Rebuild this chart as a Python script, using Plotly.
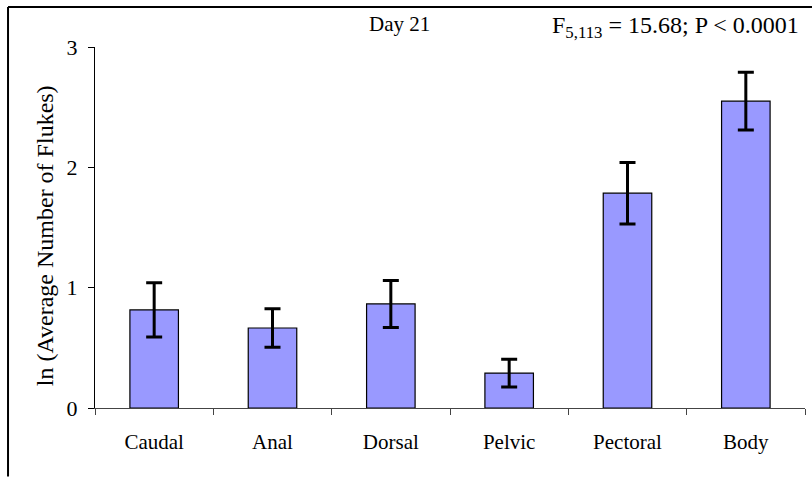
import plotly.graph_objects as go

categories = ["Caudal", "Anal", "Dorsal", "Pelvic", "Pectoral", "Body"]
values = [0.815, 0.665, 0.865, 0.29, 1.785, 2.55]
errors = [0.225, 0.16, 0.195, 0.115, 0.255, 0.24]
y_ticks = [0, 1, 2, 3]

FONT = "Liberation Serif, Times New Roman, serif"

fig = go.Figure()
fig.add_trace(go.Bar(
    x=categories, y=values,
    marker=dict(color="#9999FF", line=dict(color="black", width=1.2)),
    width=0.41,
    error_y=dict(type="data", array=errors, visible=True, color="black", thickness=3, width=8),
))

fig.update_layout(
    width=812, height=478,
    margin=dict(l=95, r=7, t=47, b=70),
    plot_bgcolor="white", paper_bgcolor="white",
    showlegend=False,
    font=dict(family=FONT, size=21, color="black"),
    xaxis=dict(showline=True, linecolor="#444", linewidth=1, ticks="outside", tickson="boundaries",
               ticklen=6, tickcolor="#444", showgrid=False, tickfont=dict(size=21, family=FONT),
               ticklabelstandoff=15),
    yaxis=dict(range=[0, 3], tickvals=y_ticks, showline=True, linecolor="black", linewidth=1,
               ticks="outside", ticklen=6, tickcolor="black", showgrid=False, zeroline=False,
               tickfont=dict(size=22, family=FONT), ticklabelstandoff=6),
    annotations=[
        dict(text="ln (Average Number of Flukes)", xref="paper", yref="paper", x=-0.0704, y=0.476,
             xanchor="center", yanchor="middle", textangle=-90, showarrow=False,
             font=dict(size=24, family=FONT)),
        dict(text="Day 21", xref="paper", yref="paper", x=0.429, y=1.063, xanchor="center", yanchor="middle",
             showarrow=False, font=dict(size=21, family=FONT)),
        dict(text="F<sub>5,113</sub> = 15.68; P < 0.0001", xref="paper", yref="paper", x=0.994, y=1.055,
             xanchor="right", yanchor="middle", showarrow=False, font=dict(size=24, family=FONT)),
    ],
    shapes=[
        dict(type="line", xref="paper", yref="paper", x0=-0.1225, x1=1.02, y0=1.111, y1=1.111,
             line=dict(color="black", width=2)),
        dict(type="line", xref="paper", yref="paper", x0=-0.1225, x1=-0.1225, y0=1.111, y1=-0.19,
             line=dict(color="black", width=2)),
    ],
)

fig.write_html("out.html")
